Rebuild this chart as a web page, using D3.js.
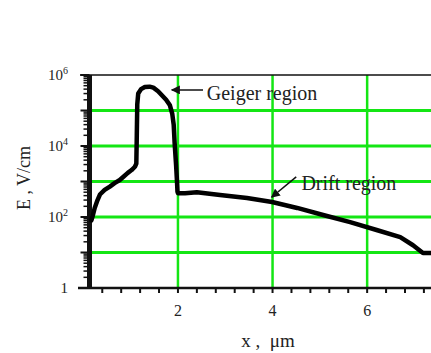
<!DOCTYPE html>
<html>
<head>
<meta charset="utf-8">
<script src="https://cdn.jsdelivr.net/npm/d3@7"></script>
<style>
  body { margin: 0; background: #fff; }
</style>
</head>
<body>
<svg id="chart" width="431" height="353"></svg>
<script>
// field profile (x in um, E in V/cm)
const xPos = [0.17, 0.20, 0.24, 0.30, 0.35, 0.45, 0.56, 0.66, 0.77, 0.86, 0.94, 1.02, 1.09, 1.12,
  1.13, 1.14, 1.16, 1.22, 1.30, 1.40, 1.48, 1.58, 1.66, 1.75, 1.83, 1.88, 1.91, 1.93, 1.96, 1.98,
  1.99, 2.00, 2.15, 2.40, 2.89, 3.46, 3.99, 4.52, 5.07, 5.64, 6.20, 6.70, 6.97, 7.18, 7.35];
const eField = [80, 110, 180, 300, 430, 580, 720, 900, 1100, 1400, 1750, 2100, 2600, 3200,
  2.0e4, 1.5e5, 3.0e5, 4.0e5, 4.6e5, 4.7e5, 4.4e5, 3.5e5, 2.7e5, 2.0e5, 1.4e5, 8.0e4, 4.0e4, 1.2e4, 3000, 1000,
  520, 470, 470, 500, 417, 344, 265, 180, 114, 72, 43, 27, 16, 9.7, 9.7];

const yTickExps = [0, 2, 4, 6];
const xTickLabels = [2, 4, 6];
const xGrid = [2, 4, 6];
const yGridExps = [1, 2, 3, 4, 5];

// annotation texts with arrow tip / tail and label anchor (data units)
const notes = [
  { label: "Geiger region", tip: [1.87, 3.8e5], tail: [2.53, 3.8e5], at: [2.61, 3.1e5] },
  { label: "Drift region", tip: [3.98, 360], tail: [4.50, 1350], at: [4.61, 900] }
];

const svg = d3.select("#chart")
  .attr("font-family", "'Liberation Serif', 'DejaVu Serif', 'Times New Roman', serif");
const W = 431, H = 353;
const plotLeft = 89.5, plotTop = 75, plotBottom = 288;
const ink = "#222";

const x = d3.scaleLinear().domain([0.13, 7.35]).range([plotLeft, W]);
const y = d3.scaleLog().domain([1, 1e6]).range([plotBottom, plotTop]);

// grid
const green = "#14e614";
svg.append("g").selectAll("line").data(yGridExps).join("line")
  .attr("x1", plotLeft).attr("x2", W)
  .attr("y1", d => y(Math.pow(10, d))).attr("y2", d => y(Math.pow(10, d)))
  .attr("stroke", green).attr("stroke-width", 3);
svg.append("g").selectAll("line").data(xGrid).join("line")
  .attr("x1", d => x(d)).attr("x2", d => x(d))
  .attr("y1", plotTop).attr("y2", plotBottom)
  .attr("stroke", green).attr("stroke-width", 2.5);

// frame
svg.append("line").attr("x1", 80).attr("x2", W).attr("y1", plotTop).attr("y2", plotTop)
  .attr("stroke", "#111").attr("stroke-width", 1.5);
svg.append("line").attr("x1", 78).attr("x2", W).attr("y1", plotBottom).attr("y2", plotBottom)
  .attr("stroke", "#111").attr("stroke-width", 2.5);
svg.append("line").attr("x1", plotLeft).attr("x2", plotLeft).attr("y1", plotTop).attr("y2", plotBottom + 1)
  .attr("stroke", "#111").attr("stroke-width", 5);

// y ticks: decades + minor
const minor = [];
for (let k = 0; k < 6; k++) for (let m = 2; m < 10; m++) minor.push(m * Math.pow(10, k));
svg.append("g").selectAll("line").data(minor).join("line")
  .attr("x1", plotLeft - 6).attr("x2", plotLeft)
  .attr("y1", d => y(d)).attr("y2", d => y(d))
  .attr("stroke", "#111").attr("stroke-width", 1.5);
svg.append("g").selectAll("line").data(d3.range(0, 7)).join("line")
  .attr("x1", plotLeft - 9).attr("x2", plotLeft)
  .attr("y1", d => y(Math.pow(10, d))).attr("y2", d => y(Math.pow(10, d)))
  .attr("stroke", "#111").attr("stroke-width", 2);

const yl = svg.append("g").selectAll("text").data(yTickExps).join("text")
  .attr("x", 68).attr("y", d => y(Math.pow(10, d)) + 5)
  .attr("text-anchor", "end").attr("font-size", 15).attr("fill", ink);
yl.filter(d => d === 0).text("1");
yl.filter(d => d !== 0).each(function (d) {
  const t = d3.select(this);
  t.append("tspan").text("10");
  t.append("tspan").attr("dy", -6).attr("font-size", 10).text(d);
});

// x ticks every 0.4
svg.append("g").selectAll("line").data(d3.range(1, 19).map(i => i * 0.4)).join("line")
  .attr("x1", d => x(d)).attr("x2", d => x(d))
  .attr("y1", plotBottom).attr("y2", plotBottom + 5)
  .attr("stroke", "#111").attr("stroke-width", 2);
svg.append("g").selectAll("text").data(xTickLabels).join("text")
  .attr("x", d => x(d)).attr("y", 316)
  .attr("text-anchor", "middle").attr("font-size", 16).attr("fill", ink).text(d => d);

// axis titles
svg.append("text").attr("transform", "translate(30,178) rotate(-90)")
  .attr("text-anchor", "middle").attr("font-size", 18).attr("fill", ink).text("E , V/cm");
svg.append("text").attr("x", 268).attr("y", 347)
  .attr("text-anchor", "middle").attr("font-size", 19).attr("fill", ink)
  .attr("xml:space", "preserve").text("x ,  \u03bcm");

// curve
const pts = xPos.map((v, i) => [v, eField[i]]);
svg.append("path").datum(pts)
  .attr("fill", "none").attr("stroke", "#000").attr("stroke-width", 4.5)
  .attr("stroke-linejoin", "round").attr("stroke-linecap", "round")
  .attr("d", d3.line().x(d => x(d[0])).y(d => y(d[1])));

// annotations
svg.append("defs").append("marker").attr("id", "ah")
  .attr("viewBox", "0 0 10 10").attr("refX", 9).attr("refY", 5)
  .attr("markerWidth", 6).attr("markerHeight", 6).attr("orient", "auto")
  .append("path").attr("d", "M0,0 L10,5 L0,10 z").attr("fill", "#111");
const ng = svg.append("g").selectAll("g").data(notes).join("g");
ng.append("line")
  .attr("x1", d => x(d.tail[0])).attr("y1", d => y(d.tail[1]))
  .attr("x2", d => x(d.tip[0])).attr("y2", d => y(d.tip[1]))
  .attr("stroke", "#111").attr("stroke-width", 1.5).attr("marker-end", "url(#ah)");
ng.append("text")
  .attr("x", d => x(d.at[0])).attr("y", d => y(d.at[1]))
  .attr("dominant-baseline", "central")
  .attr("font-size", 20).attr("fill", ink).text(d => d.label);
</script>
</body>
</html>
